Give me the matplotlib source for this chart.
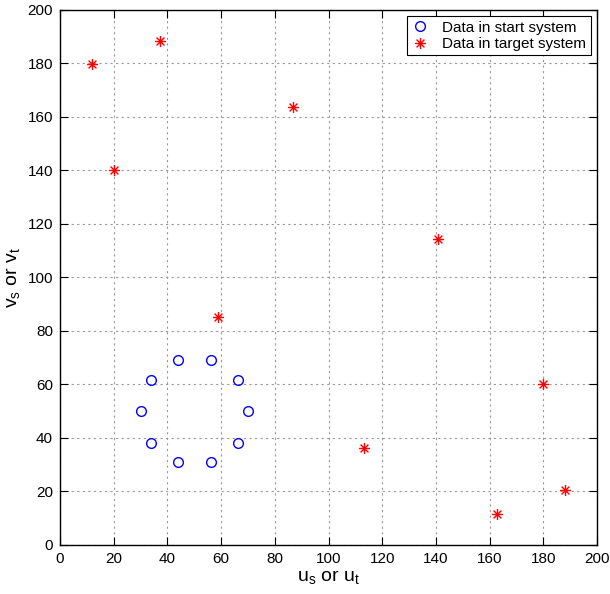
import numpy as np
import matplotlib
matplotlib.use('Agg')
import matplotlib.pyplot as plt
from matplotlib.path import Path

plt.rcParams['font.family'] = ['Liberation Sans', 'DejaVu Sans']

# data in start system (points on a circle)
us = [70.0, 66.2, 56.2, 43.8, 33.8, 30.0, 33.8, 43.8, 56.2, 66.2]
vs = [50.0, 61.8, 69.0, 69.0, 61.8, 50.0, 38.2, 31.0, 31.0, 38.2]

# data in target system
ut = [11.9, 37.3, 20.2, 86.7, 59.0, 140.9, 113.3, 180.0, 162.7, 188.2]
vt = [179.6, 188.3, 140.0, 163.6, 85.2, 114.5, 36.1, 60.0, 11.4, 20.5]

xticks = list(range(0, 201, 20))
yticks = list(range(0, 201, 20))

# matlab style asterisk
d = 0.7071
star = Path([(-1, 0), (1, 0), (0, -1), (0, 1), (-d, -d), (d, d), (-d, d), (d, -d)],
            [Path.MOVETO, Path.LINETO] * 4)

fig = plt.figure(figsize=(6.1, 5.94), dpi=100)
ax = fig.add_axes([0.0984, 0.0825, 0.8803, 0.9008])

ax.plot(us, vs, linestyle='none', marker='o', markersize=7, markerfacecolor='none',
        markeredgecolor='blue', markeredgewidth=1.0, label='Data in start system')
ax.plot(ut, vt, linestyle='none', marker=star, markersize=8, markerfacecolor='none',
        markeredgecolor='red', markeredgewidth=1.0, label='Data in target system')

ax.set_xlim(0, 200)
ax.set_ylim(0, 200)
ax.set_xticks(xticks)
ax.set_yticks(yticks)
ax.tick_params(direction='in', top=True, right=True, length=6, labelsize=11, width=0.8, pad=5)
ax.grid(True, linestyle=(0, (2, 3)), color='#999999', linewidth=0.8)
ax.set_axisbelow(True)
for s in ax.spines.values():
    s.set_linewidth(1.0)

ax.set_xlabel(r'u$_\mathregular{s}$ or u$_\mathregular{t}$', fontsize=14, labelpad=2)
ax.set_ylabel(r'v$_\mathregular{s}$ or v$_\mathregular{t}$', fontsize=14, labelpad=3)

leg = ax.legend(loc='upper right', fontsize=11, fancybox=False, framealpha=1,
                edgecolor='black', borderaxespad=0.4, handletextpad=0.9,
                borderpad=0.3, labelspacing=0.15, handlelength=1.1)
leg.get_frame().set_linewidth(0.8)

fig.savefig('out.png', dpi=100)
